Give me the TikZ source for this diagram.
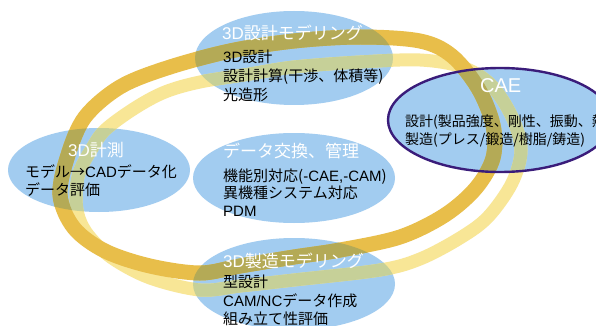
\documentclass[tikz,border=0pt]{standalone}
\usepackage{fontspec}
\newfontfamily\jp{Noto Sans CJK JP}
\newfontfamily\lat{Liberation Sans}
\usetikzlibrary{shapes.geometric}
\definecolor{ellblue}{RGB}{162,204,240}
\definecolor{goldc}{RGB}{232,190,74}
\definecolor{lightc}{RGB}{248,230,150}
\definecolor{goldmix}{RGB}{180,170,86}
\definecolor{lightmix}{RGB}{198,208,152}
\definecolor{caepurple}{RGB}{58,28,122}
\newcommand\goldring[1]{\draw[#1] plot[smooth cycle, tension=0.55] coordinates {(60,195) (68,155) (85,117) (120,87) (167,68) (230,51) (294,41) (360,37) (420,41) (452,56) (478,88) (493,125) (493,158) (476,188) (445,215) (400,237) (340,250) (294,257) (240,266) (200,273) (150,266) (105,251) (74,228)};}
\newcommand\lightring[1]{\draw[#1] plot[smooth cycle, tension=0.55] coordinates {(76,198) (79,173) (91,150) (105,130) (135,108) (165,92) (200,82) (250,74) (294,67) (360,62) (420,60) (462,67) (491,85) (512,117) (521,150) (512,183) (488,217) (460,238) (420,259) (380,270) (294,280) (240,286) (200,290) (150,278) (112,258) (89,236) (79,218)};}
\newcommand\mixrings{\lightring{lightmix, line width=13pt}\goldring{goldmix, line width=15pt}}
\newcommand\latin[1]{{\lat #1}}
\begin{document}
\begin{tikzpicture}[x=1pt,y=-1pt,
  ell/.style={ellipse, fill=ellblue, draw=none, inner sep=0pt},
  ttl/.style={anchor=base west, inner sep=0pt, text=white, font=\jp\fontsize{17}{17}\selectfont},
  body/.style={anchor=base west, inner sep=0pt, text=black, font=\jp\fontsize{15}{15}\selectfont},
  caebody/.style={body, font=\jp\fontsize{14}{14}\selectfont},
  caeline/.style={draw=caepurple, line width=2.4pt}]
\useasboundingbox (0,0) rectangle (596,326);
\fill[white] (0,0) rectangle (596,326);
% ellipses
\node[ell, minimum width=198pt, minimum height=94pt] (top) at (294,58) {};
\node[ell, minimum width=224pt, minimum height=104pt] (cae) at (500,120) {};
\node[ell, minimum width=182pt, minimum height=84pt] (meas) at (99,170) {};
\node[ell, minimum width=202pt, minimum height=90pt] (data) at (294,178) {};
\node[ell, minimum width=202pt, minimum height=92pt] (manu) at (294,284) {};
% rings
\lightring{lightc, line width=13pt}
\goldring{goldc, line width=15pt}
\begin{scope}\clip (top.center) ellipse [x radius=99, y radius=47]; \mixrings\end{scope}
\begin{scope}\clip (cae.center) ellipse [x radius=112, y radius=52]; \mixrings\end{scope}
\begin{scope}\clip (meas.center) ellipse [x radius=91, y radius=42]; \mixrings\end{scope}
\begin{scope}\clip (manu.center) ellipse [x radius=101, y radius=46]; \mixrings\end{scope}
\draw[caeline] (cae.center) ellipse [x radius=112, y radius=52];
% texts
\node[ttl] (t1) at (222,40) {\latin{3D}設計モデリング};
\node[body] (t1a) at (223,63) {\latin{3D}設計};
\node[body] (t1b) at (223,82) {設計計算(干渉、体積等)};
\node[body] (t1c) at (223,101) {光造形};
\node[ttl, font=\lat\fontsize{20}{20}\selectfont] (t2) at (480,93) {CAE};
\node[caebody] (t2a) at (405,126) {設計(製品強度、剛性、振動、熱};
\node[caebody] (t2b) at (405,144) {製造(プレス/鍛造/樹脂/鋳造)};
\node[ttl] (t3) at (68,156) {\latin{3D}計測};
\node[body] (t3a) at (25,177) {モデル→\latin{CAD}データ化};
\node[body] (t3b) at (25,195) {データ評価};
\node[ttl] (t4) at (223,157) {データ交換、管理};
\node[body] (t4a) at (223,181) {機能別対応(\latin{-CAE,-CAM})};
\node[body] (t4b) at (223,198) {異機種システム対応};
\node[body] (t4c) at (223,216) {\latin{PDM}};
\node[ttl] (t5) at (223,267) {\latin{3D}製造モデリング};
\node[body] (t5a) at (223,287) {型設計};
\node[body] (t5b) at (223,306) {\latin{CAM/NC}データ作成};
\node[body] (t5c) at (223,324) {組み立て性評価};
\end{tikzpicture}
\end{document}
